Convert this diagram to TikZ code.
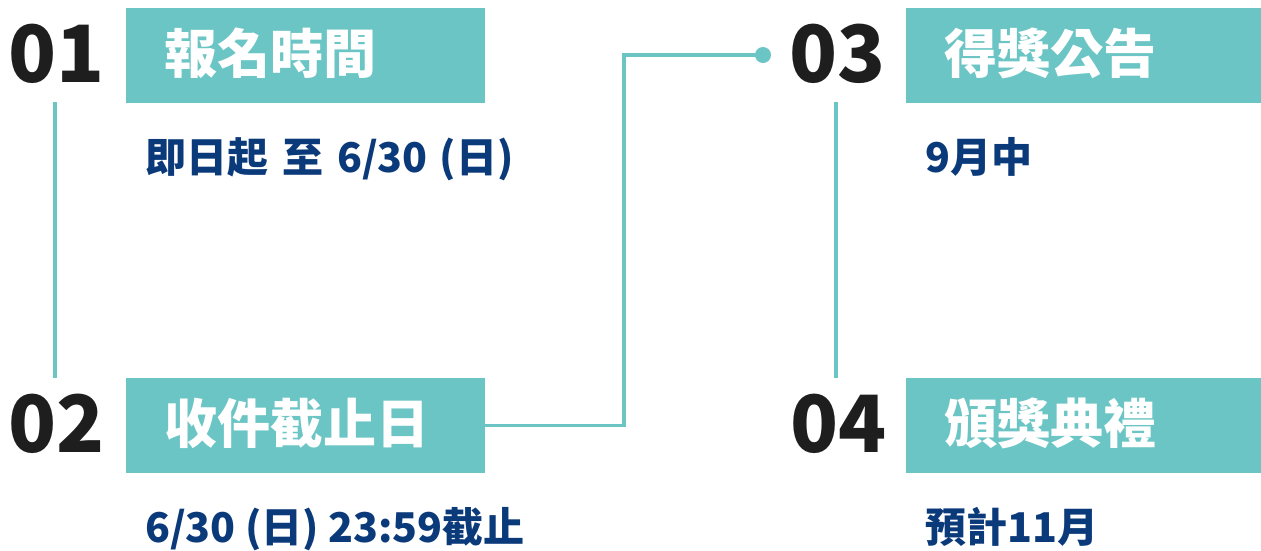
\documentclass[tikz,border=0pt]{standalone}
\usepackage{fontspec}
\setmainfont{Noto Sans CJK TC}
\definecolor{tealbox}{HTML}{6BC5C5}
\definecolor{navytext}{HTML}{0B3A7A}
\definecolor{inktext}{HTML}{1E1E1E}
\newcommand{\gapsp}{\hspace{14pt}}
\begin{document}
\begin{tikzpicture}[x=1pt,y=-1pt,
  box/.style={fill=tealbox, minimum height=95pt, inner sep=0pt, anchor=north west},
  title/.style={anchor=base west, inner sep=0pt, text=white, font=\fontsize{53}{53}\selectfont\bfseries},
  num/.style={anchor=base west, inner sep=0pt, text=inktext, font=\fontsize{79}{79}\selectfont\bfseries},
  sub/.style={anchor=base west, inner sep=0pt, text=navytext, font=\fontsize{41}{41}\selectfont\bfseries},
  link/.style={draw=tealbox, line width=3.5pt},
]
\useasboundingbox (0,0) rectangle (1261,550);
% boxes
\node[box, minimum width=359pt] (b1) at (126,8) {};
\node[box, minimum width=359pt] (b2) at (126,378) {};
\node[box, minimum width=355pt] (b3) at (906,8) {};
\node[box, minimum width=355pt] (b4) at (906,378) {};
% numbers
\node[num] (n1) at (8,82) {01};
\node[num] (n2) at (8,452) {02};
\node[num] (n3) at (789,82) {03};
\node[num] (n4) at (790,452) {04};
% titles
\node[title] (t1) at (164,73) {報名時間};
\node[title] (t2) at (164,443) {收件截止日};
\node[title] (t3) at (944,73) {得獎公告};
\node[title] (t4) at (944,443) {頒獎典禮};
% sub texts
\node[sub] (s1) at (145,172) {即日起\gapsp 至\gapsp 6/30\hspace{12pt}(日)};
\node[sub] (s2) at (145,542) {6/30 (日) 23:59截止};
\node[sub] (s3) at (925,172) {9月中};
\node[sub] (s4) at (925,542) {預計11月};
% vertical lines
\coordinate (la) at (55,102);
\coordinate (lb) at (55,378);
\coordinate (ra) at (836,102);
\coordinate (rb) at (836,378);
\draw[link] (la) -- (lb);
\draw[link] (ra) -- (rb);
% connector
\coordinate (mid) at (624,240);
\coordinate (dot) at (763,55);
\draw[link] (b2.east) -| (mid) |- (dot);
\fill[tealbox] (dot) circle (8pt);
\end{tikzpicture}
\end{document}
